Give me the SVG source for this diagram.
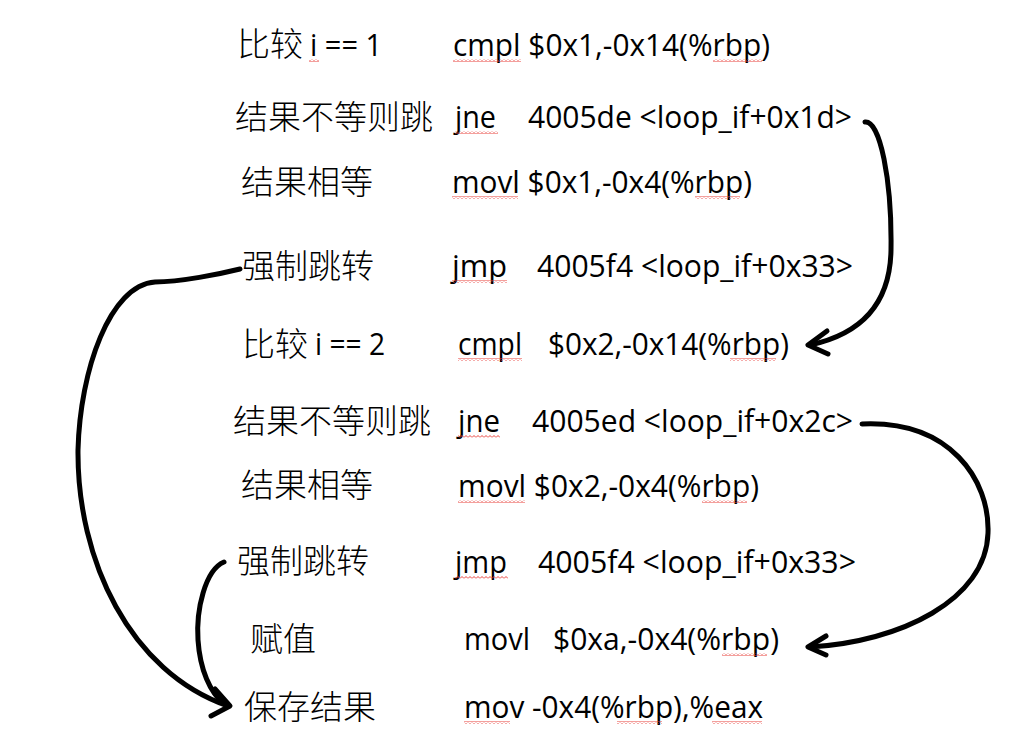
<svg xmlns="http://www.w3.org/2000/svg" width="1030" height="736" viewBox="0 0 1030 736">
<style>
.zh{font-family:"Noto Sans CJK SC","Noto Sans CJK JP",sans-serif;font-size:33px;font-weight:300;fill:#000}
.en{font-family:"Open Sans","Liberation Sans",sans-serif;font-size:31px;fill:#000}
.ln{fill:none;stroke:#000;stroke-width:5;stroke-linecap:round;stroke-linejoin:round}
.sq{fill:url(#wavy)}
</style>
<defs>
<pattern id="wavy" width="4" height="3" patternUnits="userSpaceOnUse"><path d="M0 2.5 L2 0.5 L4 2.5" fill="none" stroke="#e8403a" stroke-width="1"/></pattern>
</defs>
<rect width="1030" height="736" fill="#fff"/>
<g id="row1">
<text class="zh" x="237" y="56">比较</text>
<text class="en" x="310" y="56" textLength="72" lengthAdjust="spacingAndGlyphs">i == 1</text>
<text class="en" x="453" y="56" textLength="317" lengthAdjust="spacingAndGlyphs">cmpl $0x1,-0x14(%rbp)</text>
<rect class="sq" x="309" y="59" width="10" height="3"/><rect class="sq" x="453" y="59" width="68" height="3"/><rect class="sq" x="713" y="59" width="49" height="3"/>
</g>
<g id="row2">
<text class="zh" x="235" y="129">结果不等则跳</text>
<text class="en" x="455" y="128" textLength="41" lengthAdjust="spacingAndGlyphs">jne</text>
<text class="en" x="528" y="128" textLength="324" lengthAdjust="spacingAndGlyphs">4005de &lt;loop_if+0x1d&gt;</text>
<rect class="sq" x="455" y="131" width="43" height="3"/>
</g>
<g id="row3">
<text class="zh" x="241" y="194">结果相等</text>
<text class="en" x="452" y="193" textLength="300" lengthAdjust="spacingAndGlyphs">movl $0x1,-0x4(%rbp)</text>
<rect class="sq" x="452" y="196" width="66" height="3"/><rect class="sq" x="695" y="196" width="45" height="3"/>
</g>
<g id="row4">
<text class="zh" x="242" y="278">强制跳转</text>
<text class="en" x="452" y="277" textLength="55" lengthAdjust="spacingAndGlyphs">jmp</text>
<text class="en" x="537" y="277" textLength="316" lengthAdjust="spacingAndGlyphs">4005f4 &lt;loop_if+0x33&gt;</text>
<rect class="sq" x="452" y="280" width="55" height="3"/>
</g>
<g id="row5">
<text class="zh" x="242" y="356">比较</text>
<text class="en" x="315" y="355" textLength="70" lengthAdjust="spacingAndGlyphs">i == 2</text>
<text class="en" x="458" y="355" textLength="64" lengthAdjust="spacingAndGlyphs">cmpl</text>
<text class="en" x="548" y="355" textLength="241" lengthAdjust="spacingAndGlyphs">$0x2,-0x14(%rbp)</text>
<rect class="sq" x="458" y="358" width="64" height="3"/><rect class="sq" x="730" y="358" width="46" height="3"/>
</g>
<g id="row6">
<text class="zh" x="233" y="433">结果不等则跳</text>
<text class="en" x="458" y="432" textLength="42" lengthAdjust="spacingAndGlyphs">jne</text>
<text class="en" x="532" y="432" textLength="321" lengthAdjust="spacingAndGlyphs">4005ed &lt;loop_if+0x2c&gt;</text>
<rect class="sq" x="458" y="435" width="42" height="3"/>
</g>
<g id="row7">
<text class="zh" x="241" y="497">结果相等</text>
<text class="en" x="458" y="497" textLength="301" lengthAdjust="spacingAndGlyphs">movl $0x2,-0x4(%rbp)</text>
<rect class="sq" x="458" y="500" width="67" height="3"/><rect class="sq" x="702" y="500" width="45" height="3"/>
</g>
<g id="row8">
<text class="zh" x="237" y="573">强制跳转</text>
<text class="en" x="455" y="573" textLength="52" lengthAdjust="spacingAndGlyphs">jmp</text>
<text class="en" x="538" y="573" textLength="318" lengthAdjust="spacingAndGlyphs">4005f4 &lt;loop_if+0x33&gt;</text>
<rect class="sq" x="455" y="576" width="53" height="3"/>
</g>
<g id="row9">
<text class="zh" x="250" y="651">赋值</text>
<text class="en" x="464" y="650" textLength="66" lengthAdjust="spacingAndGlyphs">movl</text>
<text class="en" x="553" y="650" textLength="226" lengthAdjust="spacingAndGlyphs">$0xa,-0x4(%rbp)</text>
<rect class="sq" x="722" y="653" width="45" height="3"/>
</g>
<g id="row10">
<text class="zh" x="244" y="719">保存结果</text>
<text class="en" x="464" y="718" textLength="299" lengthAdjust="spacingAndGlyphs">mov -0x4(%rbp),%eax</text>
<rect class="sq" x="464" y="721" width="46" height="3"/><rect class="sq" x="617" y="721" width="45" height="3"/><rect class="sq" x="712" y="721" width="50" height="3"/>
</g>
<g id="connectors">
<path class="ln" d="M 865 122 C 880 120, 892 180, 891 250 C 890 312, 852 336, 810 345"/>
<path class="ln" d="M 827 331 L 808 345 L 828 354"/>
<path class="ln" d="M 862 424 C 950 420, 990 480, 988 533 C 986 600, 900 642, 810 647"/>
<path class="ln" d="M 826 636 L 808 647 L 826 655"/>
<path class="ln" d="M 240 269 C 220 274, 180 282, 155 282 C 110 285, 80 370, 78 450 C 77 560, 130 672, 228 706"/>
<path class="ln" d="M 224 562 C 205 570, 196 610, 198 640 C 200 670, 210 692, 224 704"/>
<path class="ln" d="M 215 689 L 230 706 L 211 716"/>
</g>
</svg>
